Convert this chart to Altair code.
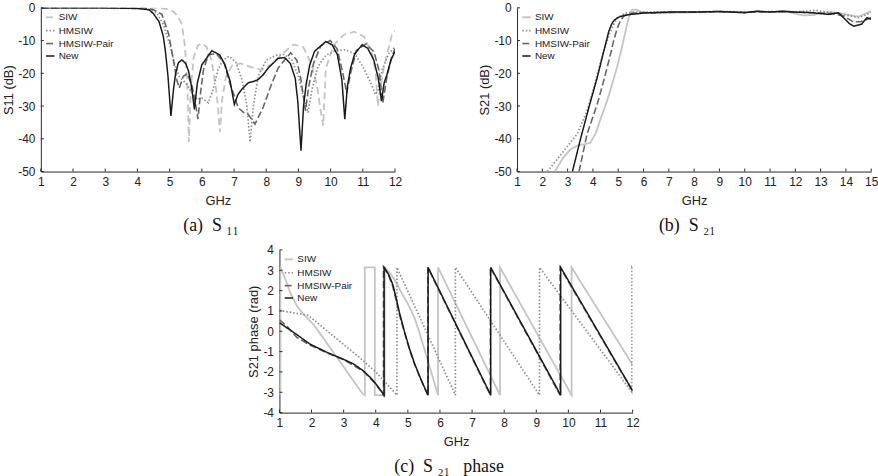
import altair as alt
import pandas as pd

SERIES = ["SIW", "HMSIW", "HMSIW-Pair", "New"]
COLORS = ["#c4c4c4", "#8c8c8c", "#666666", "#1a1a1a"]
WIDTHS = [1.8, 1.5, 1.8, 2.2]
DASH_A = [[7, 4], [1.5, 2], [7, 3], [1, 0]]
DASH_BC = [[1, 0], [1.5, 2], [7, 3], [1, 0]]
AXIS_COLOR = "#262626"

# ---------------- S11 (dB) ----------------
s11_siw_f = [1, 4.6, 4.9, 5.1, 5.25, 5.38, 5.48, 5.55, 5.6, 5.66, 5.75, 5.88, 6.0, 6.15, 6.3, 6.42,
             6.5, 6.56, 6.63, 6.75, 6.95, 7.2, 7.5, 7.85, 8.2, 8.5, 8.85, 9.15, 9.4, 9.58, 9.7, 9.77,
             9.85, 10.1, 10.4, 10.73, 11.04, 11.3, 11.4, 11.47, 11.55, 11.65, 11.9, 12]
s11_siw_db = [0, 0, -0.3, -1, -2.5, -5, -12, -24, -41, -24, -15, -11.5, -10.8, -12, -16, -23,
              -30, -38, -28, -21, -17.5, -17, -18, -19, -17, -14, -11.2, -12, -17, -24, -32, -36,
              -18.5, -11.3, -8.3, -7.3, -8.8, -14.3, -20, -30, -24, -18.4, -8.3, -7]

s11_hmsiw_f = [1, 4.3, 4.6, 4.8, 5.0, 5.15, 5.3, 5.5, 5.7, 5.85, 6.0, 6.2, 6.35, 6.5, 6.65, 6.85,
               7.05, 7.25, 7.4, 7.5, 7.6, 7.75, 8.0, 8.3, 8.55, 8.8, 9.0, 9.15, 9.3, 9.42, 9.6,
               9.85, 10.1, 10.42, 10.75, 11.0, 11.25, 11.4, 11.48, 11.6, 11.8, 12]
s11_hmsiw_db = [0, -0.2, -1.5, -5, -11, -17, -21, -23, -26, -28, -27.5, -29, -25, -19, -16, -14.8,
                -16.5, -22, -30, -41, -30, -21, -16, -14.5, -14.2, -16, -21, -27, -32, -25, -18,
                -14.5, -13.3, -12.8, -14, -18, -23, -26.5, -25, -19, -14, -12]

s11_pair_f = [1, 4.2, 4.5, 4.76, 4.97, 5.12, 5.22, 5.3, 5.42, 5.55, 5.7, 5.8, 5.88, 5.96, 6.05,
              6.2, 6.45, 6.7, 6.85, 7.13, 7.3, 7.44, 7.65, 7.9, 8.16, 8.37, 8.76, 8.95, 9.08, 9.22,
              9.32, 9.47, 9.7, 9.99, 10.2, 10.38, 10.5, 10.62, 10.8, 11.1, 11.35, 11.5, 11.62,
              11.75, 11.9, 12]
s11_pair_db = [0, 0, -0.6, -2, -8, -16, -22, -24.5, -21, -20, -24, -29, -34, -26, -19,
               -14.3, -14, -17, -22.4, -30.5, -32, -32.5, -35.5, -30.5, -23.4, -18.4, -13.7, -16, -22, -31.4,
               -24, -17, -11.5, -10, -12.5, -20, -26, -20, -13, -11, -13.5, -19, -29,
               -21, -15, -12.5]

s11_new_f = [1, 3, 4, 4.36, 4.5, 4.67, 4.8, 4.87, 4.95, 5.04, 5.12, 5.18, 5.27, 5.38, 5.5, 5.59,
             5.68, 5.77, 5.86, 6.0, 6.31, 6.55, 6.72, 6.88, 7.01, 7.12, 7.24, 7.44, 7.6, 7.75,
             7.9, 8.06, 8.37, 8.57, 8.75, 8.9, 8.98, 9.08, 9.16, 9.24, 9.35, 9.5, 9.85, 10.05,
             10.21, 10.35, 10.44, 10.52, 10.62, 10.75, 10.98, 11.15, 11.34, 11.48, 11.58, 11.66,
             11.75, 11.87, 12]
s11_new_db = [0, 0, -0.2, -0.6, -1.8, -4.2, -8.5, -13.3, -21, -33, -25, -20.4, -16.8, -15.9, -17, -19.4,
              -24, -31, -23, -17.4, -13.1, -14.3, -17.4, -22.5, -29.5, -26.5, -24.9, -22.9, -22.5, -21.9,
              -20.5, -18.4, -15.4, -15.2, -17, -21.5, -28.5, -43.6, -30, -23.4, -17.5, -13.3, -10.3, -11.3,
              -14.3, -22, -34, -24, -18.4, -14, -11.3, -12.3, -15.9, -21.5, -28.5, -23,
              -20.4, -16, -13.3]

# ---------------- S21 (dB) ----------------
s21_siw_f = [2.5, 2.8, 3.1, 3.4, 3.7, 3.9, 4.1, 4.3, 4.56, 4.75, 4.95, 5.1, 5.22, 5.35, 5.45,
             5.55, 5.7, 5.9, 6.3, 7, 8, 9, 10, 11, 11.8, 12.3, 12.7, 13.1, 13.5, 14, 14.5, 15]
s21_siw_db = [-50, -46, -43.3, -42, -41.6, -41.2, -38.5, -34, -28.4, -23.5, -18.2, -13.5, -9.5, -5, -2,
              -0.6, -0.5, -1.2, -1.6, -1.5, -1.4, -1.3, -1.3, -1.2, -1.4, -2.3, -2.2, -1.5, -1.3, -2.0,
              -2.7, -1.0]

s21_hmsiw_f = [2.2, 2.8, 3.38, 3.77, 4.05, 4.3, 4.5, 4.65, 4.85, 5.05, 5.3, 5.6, 6, 7, 8, 9, 10,
               11, 12, 12.8, 13.5, 14, 14.5, 15]
s21_hmsiw_db = [-50, -44.2, -38.5, -31.4, -24, -16.5, -11.5, -8, -4.5, -2.6, -1.6, -1.3, -1.3, -1.2,
                -1.2, -1.1, -1.2, -1.1, -1.2, -0.8, -1.5, -2.2, -3.0, -1.5]

s21_pair_f = [3.45, 3.77, 4.17, 4.4, 4.56, 4.7, 4.82, 4.95, 5.08, 5.2, 5.35, 5.6, 6, 7, 8, 9, 10,
              11, 12, 12.8, 13.5, 13.9, 14.3, 14.6, 15]
s21_pair_db = [-50, -38.5, -29.4, -23, -18.3, -14, -10, -6.5, -4, -2.7, -2, -1.6, -1.5, -1.4, -1.3,
               -1.2, -1.4, -1.2, -1.3, -1.5, -1.8, -2.5, -4.3, -4.2, -3.0]

s21_new_f = [3.19, 3.51, 3.84, 4.17, 4.43, 4.63, 4.75, 4.85, 5.0, 5.2, 5.5, 6.0, 7, 8, 9, 10,
             10.5, 11, 11.5, 12, 12.67, 13.32, 13.7, 13.97, 14.15, 14.3, 14.62, 14.83, 15]
s21_new_db = [-50, -40, -30.4, -21.3, -13.2, -7.1, -4.8, -3.7, -2.9, -2.4, -2, -1.6, -1.3, -1.3, -1.1,
              -1.5, -1.0, -1.3, -1.0, -1.3, -1.5, -2.0, -1.5, -3.5, -4.9, -5.6, -5.0, -3.0, -3.5]

# ---------------- S21 phase (rad) ----------------
ph_siw_f = [1.0, 1.03, 1.03, 1.19, 1.34, 1.55, 1.75, 2.06, 2.6, 3.0, 3.3, 3.6, 3.66, 3.66, 3.97,
            3.97, 4.28, 4.28, 4.43, 4.6, 4.8, 5.0, 5.2, 5.36, 5.5, 5.67, 5.8, 5.94, 5.94, 7.87,
            7.87, 10.1, 10.1, 12]
ph_siw_rad = [-2.9, -3.14, 3.14, 2.54, 1.89, 1.23, 0.83, 0.34, -0.86, -1.75, -2.43, -3.1, -3.14, 3.14, 3.14,
              -3.14, -3.14, 3.14, 2.9, 2.5, 1.9, 1.35, 0.7, -0.07, -0.8, -1.7, -2.4, -3.14, 3.14, -3.14,
              3.14, -3.14, 3.14, -1.65]

ph_hmsiw_f = [1, 1.4, 1.9, 2.5, 3.0, 3.5, 4.0, 4.35, 4.66, 4.66, 6.48, 6.48, 9.1, 9.1, 11.98,
              11.98, 12]
ph_hmsiw_rad = [1.02, 0.92, 0.78, 0.0, -0.65, -1.3, -2.0, -2.6, -3.14, 3.14, -3.14, 3.14, -3.14, 3.14,
                -3.0, 3.14, 3.1]

ph_pair_f = [1, 1.23, 1.54, 1.95, 2.5, 3.0, 3.6, 4.0, 4.24, 4.24, 4.4, 4.53, 4.64, 4.74, 4.9,
             5.05, 5.2, 5.36, 5.5, 5.62, 5.62, 7.57, 7.57, 9.74, 9.74, 12]
ph_pair_rad = [0.56, 0.26, -0.3, -0.68, -1.08, -1.4, -1.95, -2.58, -3.14, 3.14, 2.75, 2.2, 1.5, 0.8, -0.1,
               -0.9, -1.6, -2.2, -2.72, -3.14, 3.14, -3.14, 3.14, -3.14, 3.14, -2.95]

ph_new_f = [1, 1.5, 1.95, 2.5, 2.98, 3.3, 3.6, 3.85, 4.01, 4.15, 4.26, 4.26, 4.4, 4.53, 4.64,
            4.74, 4.9, 5.05, 5.2, 5.36, 5.5, 5.63, 5.63, 7.58, 7.58, 9.76, 9.76, 12]
ph_new_rad = [0.42, -0.12, -0.63, -1.05, -1.37, -1.6, -1.93, -2.3, -2.6, -2.9, -3.14, 3.14, 2.8, 2.3, 1.6,
              0.9, -0.05, -0.85, -1.55, -2.18, -2.7, -3.14, 3.14, -3.14, 3.14, -3.14, 3.14, -2.93]

NB = "\u00a0"
CAPTION_A = "(a)" + NB * 2 + "S" + NB + "\u2081\u2081"
CAPTION_B = "(b)" + NB * 2 + "S" + NB + "\u2082\u2081"
CAPTION_C = "(c)" + NB * 2 + "S" + NB + "\u2082\u2081" + NB * 3 + "phase"


def frame(curves):
    rows = []
    for name, fs, vs in curves:
        for i, (x, y) in enumerate(zip(fs, vs)):
            rows.append({"series": name, "f": x, "v": y, "k": i})
    return pd.DataFrame(rows)


def panel(curves, xmax, ydom, yticks, ytitle, caption, dash, w, h):
    df = frame(curves)
    xvals = list(range(1, xmax + 1))
    x_scale = alt.Scale(domain=[1, xmax], nice=False, zero=False)
    y_scale = alt.Scale(domain=ydom, nice=False, zero=False)
    x_enc = alt.X("f:Q", scale=x_scale,
                  axis=alt.Axis(title="GHz", values=xvals, labelExpr="'' + datum.value"))
    y_enc = alt.Y("v:Q", scale=y_scale,
                  axis=alt.Axis(title=ytitle, values=yticks, labelExpr="'' + datum.value"))
    legend = alt.Legend(
        title=None, orient="none", legendX=4, legendY=4, symbolType="stroke",
        symbolSize=70, symbolStrokeWidth=2, labelFont="Liberation Sans",
        labelFontSize=10, labelColor="#222222", rowPadding=2.5, padding=0, labelOffset=3,
    )
    layers = []
    for s in SERIES:
        layers.append(
            alt.Chart(df[df["series"] == s]).mark_line(clip=True).encode(
                x=x_enc,
                y=y_enc,
                color=alt.Color("series:N", scale=alt.Scale(domain=SERIES, range=COLORS), legend=legend),
                strokeDash=alt.StrokeDash("series:N", scale=alt.Scale(domain=SERIES, range=dash), legend=legend),
                strokeWidth=alt.StrokeWidth("series:N", scale=alt.Scale(domain=SERIES, range=WIDTHS), legend=None),
                order="k:Q",
            )
        )
    # inward tick marks along both axes
    xt = alt.Chart(pd.DataFrame({"f": xvals})).mark_rule(
        color=AXIS_COLOR, strokeWidth=1).encode(
        x=x_enc, y=alt.value(h), y2=alt.value(h - 3))
    yt = alt.Chart(pd.DataFrame({"v": yticks})).mark_rule(
        color=AXIS_COLOR, strokeWidth=1).encode(
        y=y_enc, x=alt.value(0), x2=alt.value(3))
    return alt.layer(*layers, xt, yt).properties(
        width=w, height=h,
        title=alt.TitleParams(text=caption, orient="bottom", anchor="middle", frame="group",
                              dx=-7, font="Liberation Serif", fontSize=18, fontWeight="normal",
                              color="#111111", offset=10),
    )


panel_a = panel(
    [("SIW", s11_siw_f, s11_siw_db), ("HMSIW", s11_hmsiw_f, s11_hmsiw_db),
     ("HMSIW-Pair", s11_pair_f, s11_pair_db), ("New", s11_new_f, s11_new_db)],
    12, [-50, 0], [-50, -40, -30, -20, -10, 0], "S11 (dB)", CAPTION_A, DASH_A, 357, 165)

panel_b = panel(
    [("SIW", s21_siw_f, s21_siw_db), ("HMSIW", s21_hmsiw_f, s21_hmsiw_db),
     ("HMSIW-Pair", s21_pair_f, s21_pair_db), ("New", s21_new_f, s21_new_db)],
    15, [-50, 0], [-50, -40, -30, -20, -10, 0], "S21 (dB)", CAPTION_B, DASH_BC, 357, 165)

panel_c = panel(
    [("SIW", ph_siw_f, ph_siw_rad), ("HMSIW", ph_hmsiw_f, ph_hmsiw_rad),
     ("HMSIW-Pair", ph_pair_f, ph_pair_rad), ("New", ph_new_f, ph_new_rad)],
    12, [-4, 4], [-4, -3, -2, -1, 0, 1, 2, 3, 4], "S21 phase (rad)", CAPTION_C,
    DASH_BC, 356, 164)

indep = dict(color="independent", strokeDash="independent", strokeWidth="independent")

top = alt.hconcat(panel_a, panel_b, spacing=77).resolve_scale(**indep)
chart = (
    alt.vconcat(top, panel_c, spacing=9, center=True)
    .resolve_scale(**indep)
    .properties(padding={"left": 2, "top": 0, "right": 0, "bottom": 0})
    .configure_view(strokeWidth=0)
    .configure_axis(
        grid=False, ticks=False, domainColor=AXIS_COLOR, domainWidth=1,
        labelFont="Liberation Sans", labelFontSize=12, labelColor="#222222",
        titleFont="Liberation Sans", titleFontSize=13, titleFontWeight="normal",
        titleColor="#222222", labelFlush=False, labelOverlap=False,
    )
    .configure_axisX(labelPadding=5, titlePadding=7)
    .configure_axisY(labelPadding=6, titlePadding=2)
)

chart.save("out.html", embed_options={"renderer": "svg", "actions": False})
